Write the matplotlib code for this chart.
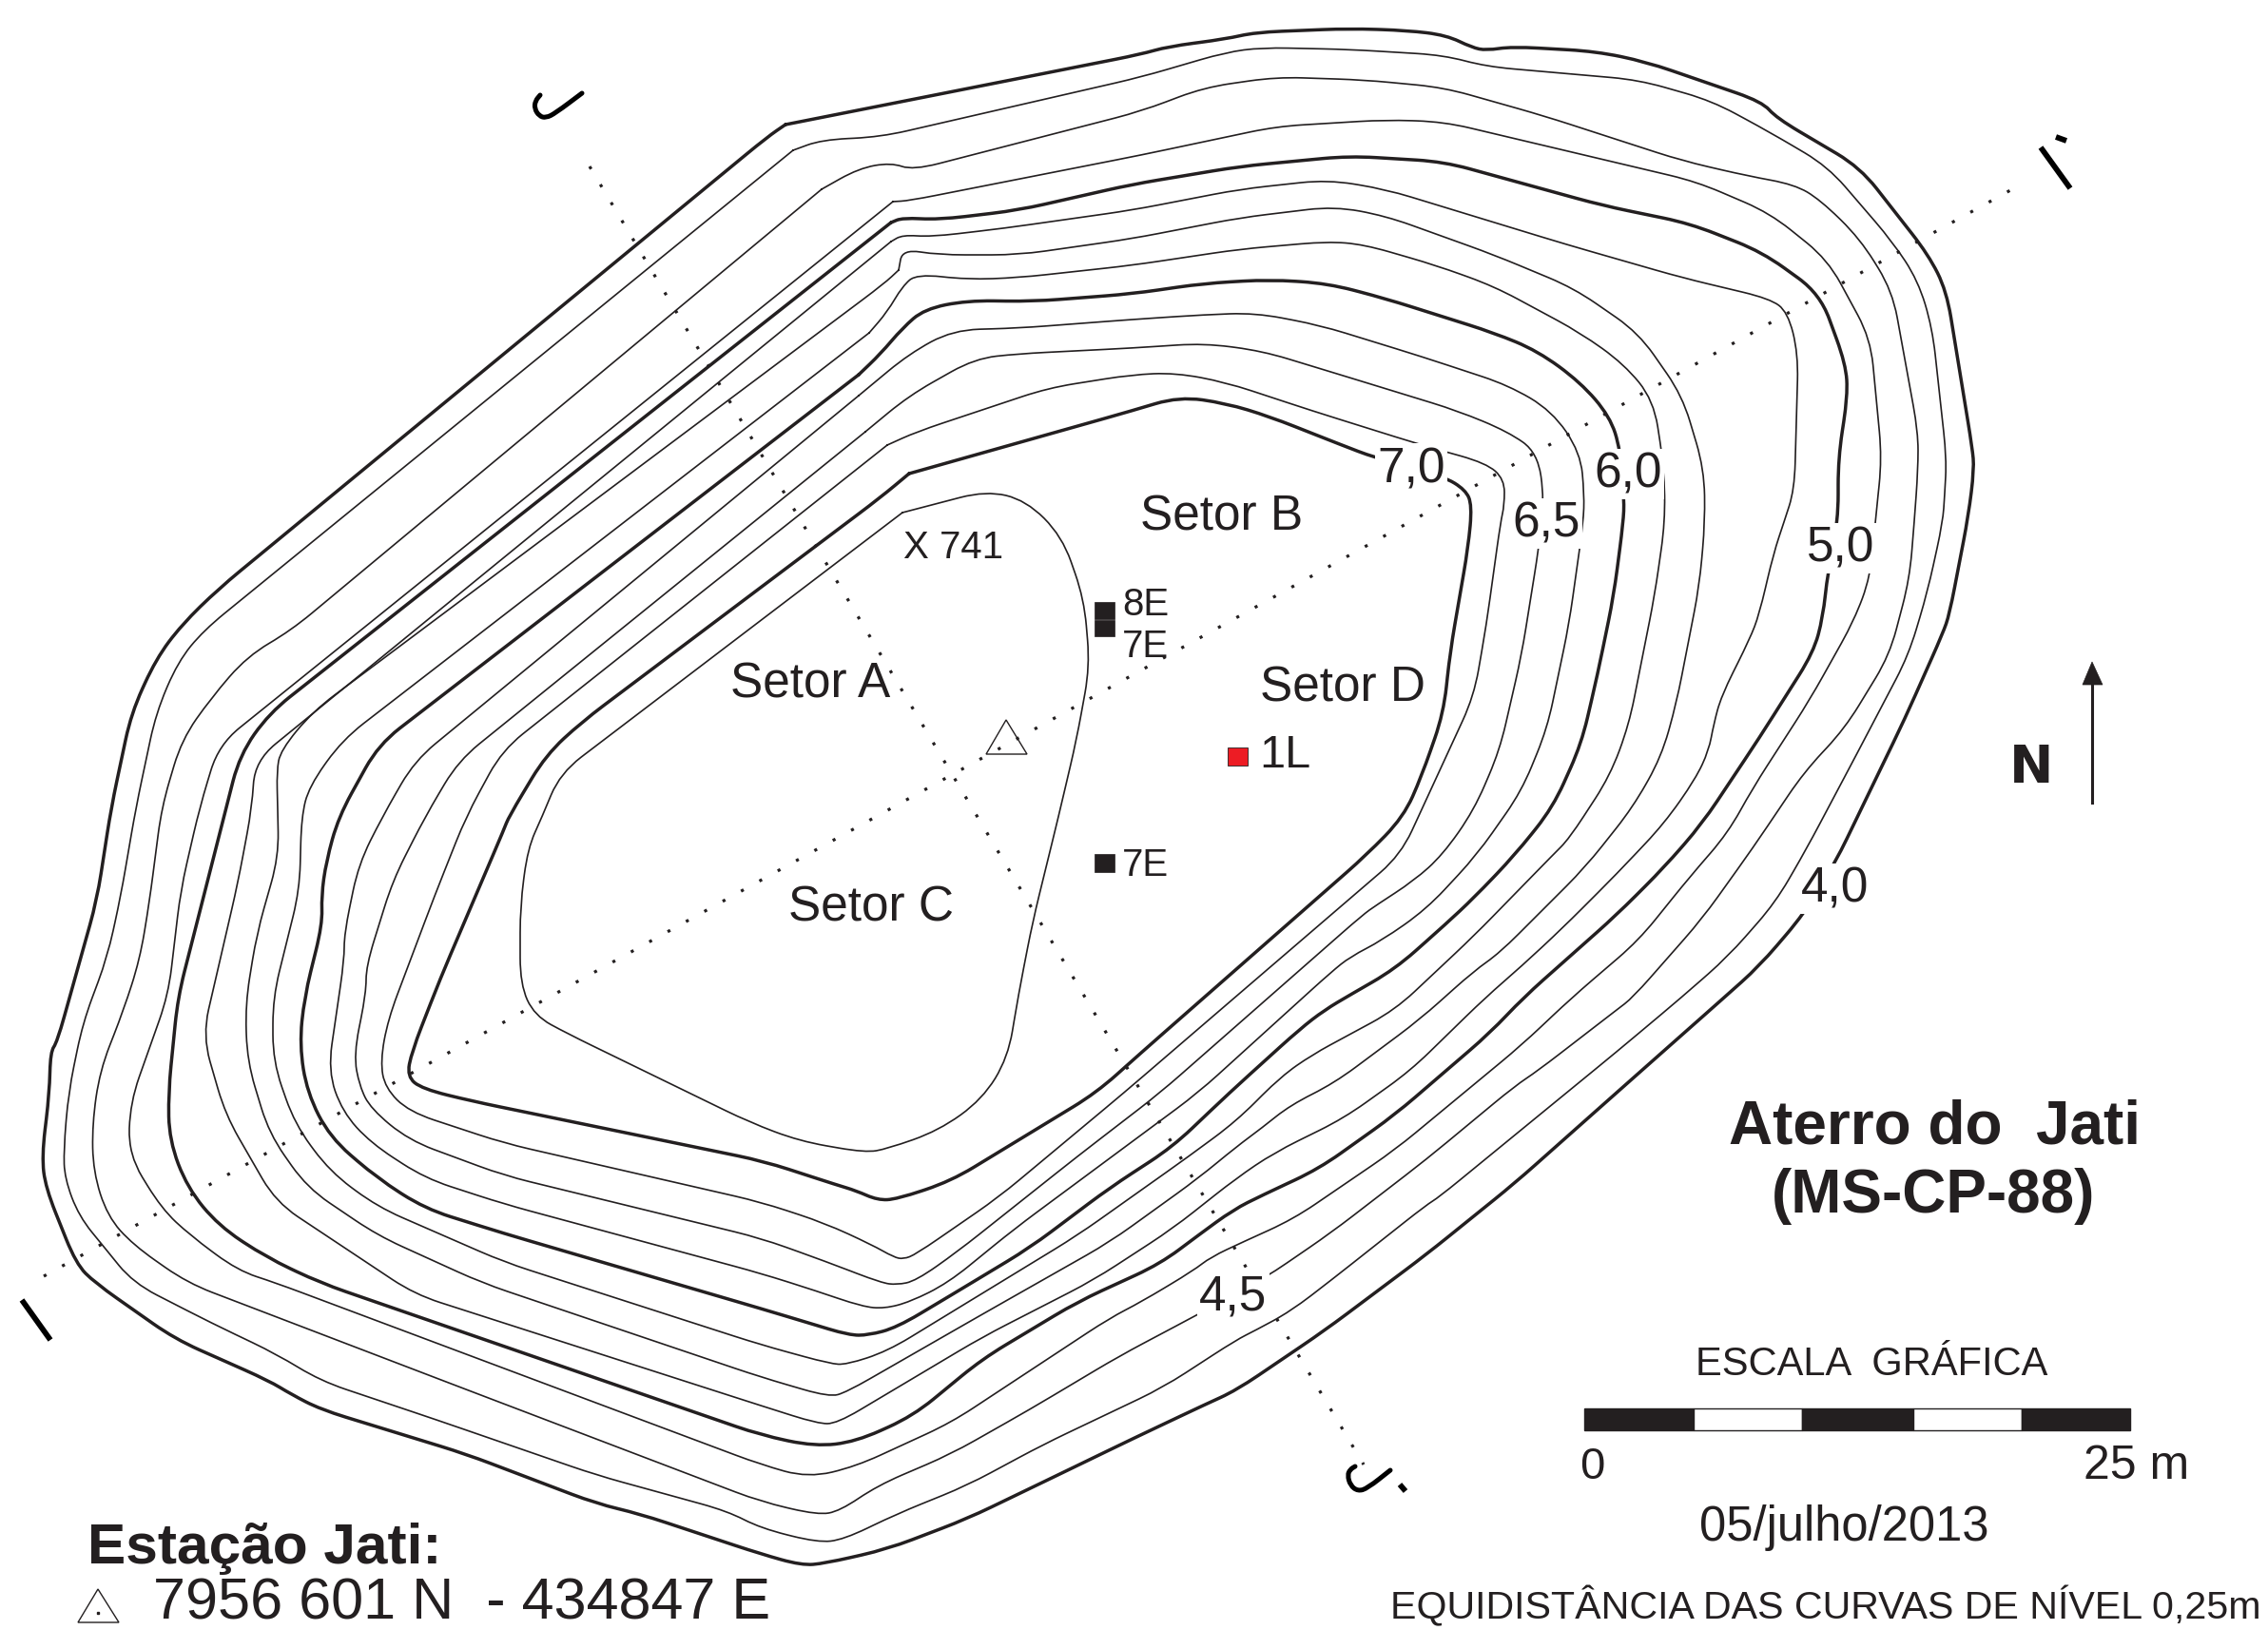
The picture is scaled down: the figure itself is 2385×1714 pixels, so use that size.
import matplotlib
matplotlib.use("Agg")
import matplotlib.pyplot as plt
from matplotlib.patches import Rectangle, Polygon, PathPatch
from matplotlib.path import Path

plt.rcParams["font.family"] = ["Liberation Sans", "DejaVu Sans"]

INK = "#231f20"

# Contour lines in image pixels
c_400 = [(826,132),(1200,58),(1228,50),(1289,42),(1320,35),(1419,31),(1480,33),(1521,38),(1548,51),(1563,54),(1590,50),(1678,55),(1731,66),(1853,108),(1868,125),(1956,177),(2028,269),(2047,307),(2074,472),(2076,494),(2070,543),(2050,647),(2043,667),(2003,757),(1930,908),(1897,962),(1850,1017),(1813,1050),(1700,1150),(1593,1245),(1500,1320),(1393,1400),(1300,1463),(1267,1478),(1193,1513),(1100,1558),(1017,1598),(933,1630),(867,1645),(843,1647),(800,1635),(673,1593),(627,1582),(490,1530),(337,1483),(306,1467),(283,1453),(184,1409),(100,1350),(80,1330),(48,1250),(44,1217),(52,1150),(53,1107),(60,1097),(102,947),(117,850),(138,751),(164,694),(191,658),(230,620),(807,145),(826,132)]
c_425 = [(834,159),(864,148),(926,145),(1200,82),(1289,56),(1327,51),(1419,53),(1518,59),(1563,71),(1723,85),(1800,107),(1861,140),(1922,176),(1990,255),(2017,296),(2032,346),(2047,483),(2045,521),(2043,550),(2027,623),(2007,690),(1953,793),(1900,893),(1867,950),(1817,1007),(1768,1050),(1700,1107),(1513,1260),(1500,1268),(1400,1347),(1357,1380),(1320,1400),(1300,1410),(1223,1460),(1097,1520),(1017,1563),(943,1593),(887,1620),(860,1623),(800,1608),(765,1590),(627,1552),(459,1494),(337,1453),(291,1425),(222,1392),(140,1350),(110,1313),(83,1280),(68,1240),(67,1210),(72,1150),(87,1077),(113,1007),(127,943),(143,850),(164,751),(187,697),(214,664),(834,159)]
c_450 = [(864,200),(903,178),(937,172),(960,180),(1200,118),(1266,93),(1342,82),(1434,85),(1518,93),(1624,123),(1769,170),(1838,186),(1887,195),(1914,211),(1956,252),(1990,307),(2017,455),(2017,494),(2013,550),(2008,610),(1987,690),(1940,767),(1897,813),(1843,893),(1790,967),(1717,1050),(1700,1063),(1617,1127),(1593,1143),(1500,1220),(1400,1297),(1330,1345),(1260,1383),(1177,1427),(1083,1483),(1000,1530),(923,1563),(883,1590),(860,1594),(800,1580),(490,1462),(197,1350),(140,1310),(113,1280),(98,1233),(97,1183),(105,1127),(130,1063),(147,1010),(157,950),(170,850),(191,779),(222,735),(260,691),(306,664),(864,200)]
c_475 = [(939,213),(956,212),(1200,164),(1342,134),(1457,127),(1518,129),(1784,192),(1861,225),(1922,274),(1967,357),(1979,483),(1972,550),(1967,607),(1950,653),(1903,737),(1843,830),(1817,877),(1777,923),(1723,990),(1653,1050),(1600,1100),(1467,1210),(1360,1283),(1307,1307),(1273,1323),(1255,1337),(1200,1370),(1167,1387),(1000,1497),(900,1543),(850,1555),(800,1541),(290,1350),(250,1337),(200,1300),(170,1272),(135,1215),(137,1160),(177,1047),(190,937),(210,850),(230,784),(939,213)]
c_500 = [(937,235),(949,230),(987,232),(1071,222),(1190,195),(1304,176),(1419,165),(1518,171),(1685,217),(1777,236),(1853,266),(1914,310),(1941,384),(1943,417),(1933,483),(1933,549),(1922,603),(1917,650),(1907,687),(1850,777),(1790,867),(1750,913),(1700,963),(1602,1050),(1567,1087),(1467,1173),(1387,1230),(1327,1258),(1297,1273),(1260,1300),(1220,1330),(1133,1370),(1033,1430),(960,1490),(900,1517),(857,1522),(800,1510),(337,1350),(280,1323),(230,1290),(197,1250),(178,1200),(177,1150),(187,1050),(238,850),(252,795),(283,751),(937,235)]
c_525 = [(937,255),(949,248),(979,250),(1056,241),(1190,222),(1304,200),(1396,190),(1457,200),(1647,258),(1769,293),(1861,315),(1880,329),(1891,373),(1887,516),(1876,550),(1865,583),(1850,647),(1840,673),(1810,733),(1802,763),(1797,790),(1783,820),(1750,867),(1700,920),(1643,977),(1600,1017),(1562,1050),(1483,1127),(1413,1177),(1340,1213),(1300,1240),(1233,1293),(1150,1347),(1033,1407),(880,1498),(860,1498),(800,1479),(436,1362),(290,1265),(237,1173),(213,1090),(250,930),(265,850),(268,801),(937,255)]
c_550 = [(945,285),(949,263),(987,269),(1071,269),(1190,252),(1304,230),(1403,218),(1457,228),(1571,269),(1655,304),(1723,351),(1769,417),(1792,494),(1793,550),(1787,617),(1763,740),(1747,797),(1717,850),(1667,913),(1577,1003),(1550,1022),(1493,1073),(1403,1140),(1357,1163),(1327,1187),(1300,1207),(1260,1240),(1167,1307),(1033,1383),(890,1465),(872,1470),(800,1449),(507,1350),(397,1300),(323,1250),(283,1193),(260,1117),(258,1057),(270,983),(293,902),(292,850),(291,812),(295,790),(329,749),(930,299),(945,285)]
c_575 = [(914,351),(933,329),(949,302),(964,289),(1017,295),(1071,293),(1190,280),(1304,263),(1396,255),(1434,258),(1510,280),(1571,302),(1662,351),(1708,384),(1739,422),(1750,494),(1751,550),(1740,627),(1713,763),(1693,817),(1650,883),(1633,900),(1550,985),(1467,1063),(1417,1090),(1380,1110),(1347,1133),(1300,1180),(1250,1217),(1133,1300),(933,1422),(890,1436),(873,1435),(800,1415),(530,1328),(397,1270),(347,1233),(310,1183),(287,1117),(287,1050),(315,937),(317,860),(325,828),(360,779),(914,351)]
c_600 = [(903,395),(926,373),(949,346),(972,326),(1017,317),(1086,318),(1190,310),(1266,299),(1335,295),(1396,299),(1457,315),(1571,351),(1617,370),(1662,403),(1693,439),(1704,474),(1708,527),(1707,550),(1697,627),(1680,710),(1663,783),(1633,850),(1593,900),(1550,945),(1520,973),(1467,1020),(1420,1047),(1393,1063),(1367,1083),(1293,1150),(1233,1207),(1167,1250),(1083,1313),(1000,1363),(943,1397),(913,1405),(893,1405),(850,1392),(800,1377),(530,1298),(447,1272),(397,1240),(347,1197),(323,1150),(315,1100),(320,1050),(339,973),(338,943),(343,907),(356,860),(398,784),(903,395)]
c_625 = [(903,417),(956,373),(1002,348),(1071,346),(1190,337),(1266,332),(1320,330),(1388,343),(1495,376),(1586,406),(1632,433),(1662,477),(1666,521),(1665,550),(1650,657),(1627,767),(1600,833),(1553,900),(1500,957),(1453,990),(1420,1007),(1400,1023),(1260,1150),(1067,1293),(997,1350),(957,1370),(930,1377),(907,1375),(857,1358),(800,1340),(530,1267),(447,1240),(390,1203),(360,1170),(345,1127),(362,1010),(362,983),(377,910),(402,860),(436,801),(903,417)]
c_650 = [(910,455),(956,417),(1025,378),(1071,373),(1190,367),(1266,362),(1327,370),(1419,398),(1533,433),(1586,455),(1617,477),(1624,527),(1618,578),(1600,690),(1577,790),(1550,853),(1517,900),(1487,927),(1447,953),(1433,963),(1220,1150),(1133,1217),(1007,1317),(963,1348),(943,1352),(927,1350),(867,1327),(800,1303),(530,1237),(430,1200),(390,1167),(378,1143),(372,1110),(385,1045),(385,1017),(413,927),(447,860),(482,801),(910,455)]
c_675 = [(933,469),(964,455),(1102,409),(1190,395),(1236,393),(1289,403),(1380,433),(1495,469),(1563,488),(1582,505),(1582,532),(1578,550),(1563,658),(1550,733),(1473,900),(1182,1150),(1050,1260),(963,1320),(950,1325),(940,1323),(917,1310),(867,1287),(800,1265),(530,1203),(430,1170),(405,1145),(400,1117),(408,1073),(457,943),(490,860),(528,790),(933,469)]
c_700 = [(956,499),(1190,433),(1240,418),(1289,425),(1335,439),(1411,469),(1445,482),(1518,502),(1541,516),(1548,532),(1544,576),(1525,686),(1518,751),(1495,817),(1476,860),(1437,900),(1200,1108),(1153,1150),(1000,1243),(943,1262),(923,1263),(900,1253),(880,1247),(803,1222),(497,1159),(444,1146),(428,1133),(433,1107),(463,1030),(530,873),(535,860),(574,795),(612,760),(926,524),(956,499)]
c_725 = [(949,540),(1037,517),(1079,527),(1117,565),(1140,631),(1146,702),(1132,779),(1113,860),(1086,970),(1071,1047),(1060,1113),(1033,1157),(987,1190),(933,1209),(910,1213),(841,1201),(788,1181),(597,1088),(562,1069),(547,1036),(547,954),(555,893),(570,860),(589,814),(949,540)]

thin_lines = [c_425, c_450, c_475, c_525, c_550, c_575, c_625, c_650, c_675, c_725]
thick_lines = [c_400, c_500, c_600, c_700]

# Section lines
section_ii = [(46,1343),(2116,200)]
section_jj = [(620,176),(1434,1541)]

# Section end marks
mark_i = [(23,1368),(53,1410)]
mark_i2 = [(2146,156),(2177,199)]
mark_i2_tick = [(2162,145),(2173,149)]
mark_j = [(612,99),(584,120),(574,125),(567,123),(562,115),(563,107),(568,101)]
mark_j2 = [(1462,1547),(1438,1566),(1428,1569),(1420,1563),(1417,1552),(1420,1546),(1425,1543)]
mark_j2_tick = [(1472,1562),(1478,1569)]

# Text: string, x, baseline y, size
contour_labels = [("7,0",1484,507),("6,5",1626,565),("6,0",1712,513),("5,0",1936,591),("4,0",1930,949),("4,5",1297,1378)]
sector_labels = [("Setor A",852,734),("Setor B",1285,558),("Setor C",916,969),("Setor D",1412,738)]
small_labels = [("X 741",1003,587,29),("8E",1204,647,29),("7E",1204,691,29),("7E",1204,921,29),("1L",1351,807,35)]

scale_edges = [1666,1781,1895,2012,2126,2240]
scale_colors = [INK,"white",INK,"white",INK]

fig = plt.figure(figsize=(23.85,17.15), dpi=100)
ax = fig.add_axes([0,0,1,1])
ax.set_xlim(0,2385)
ax.set_ylim(1715,0)
ax.axis("off")


def draw(points, lw, color=INK):
    # corners eased a little, the originals are drawn freehand
    verts = [points[0]]
    codes = [Path.MOVETO]
    for i in range(1, len(points) - 1):
        x0, y0 = points[i - 1]
        x1, y1 = points[i]
        x2, y2 = points[i + 1]
        d1 = ((x1 - x0) ** 2 + (y1 - y0) ** 2) ** 0.5
        d2 = ((x2 - x1) ** 2 + (y2 - y1) ** 2) ** 0.5
        a = min(28, d1 * 0.5) / d1
        b = min(28, d2 * 0.5) / d2
        verts += [(x1 - (x1 - x0) * a, y1 - (y1 - y0) * a), (x1, y1), (x1 + (x2 - x1) * b, y1 + (y2 - y1) * b)]
        codes += [Path.LINETO, Path.CURVE3, Path.CURVE3]
    verts.append(points[-1])
    codes.append(Path.LINETO)
    ax.add_patch(PathPatch(Path(verts, codes), fill=False, ec=color, lw=lw, joinstyle="round", capstyle="round"))


for line in thin_lines:
    draw(line, 1.2)
for line in thick_lines:
    draw(line, 2.5)

# dotted sections
for line in (section_ii, section_jj):
    xs = [p[0] for p in line]
    ys = [p[1] for p in line]
    ax.plot(xs, ys, color=INK, lw=2.3, linestyle=(0,(1,5.9)), dash_capstyle="butt", zorder=1)

for m in (mark_i, mark_i2, mark_i2_tick, mark_j2_tick):
    ax.plot([p[0] for p in m], [p[1] for p in m], color="black", lw=4.2, solid_capstyle="butt")
for m in (mark_j, mark_j2):
    draw(m, 3.6, color="black")

# triangles
ax.add_patch(Polygon([(1058,758),(1037,794),(1080,794)], closed=True, fill=False, ec=INK, lw=1.0))
ax.add_patch(Polygon([(103,1672),(82,1707),(125,1707)], closed=True, fill=False, ec=INK, lw=1.0))
ax.plot([103],[1697], marker="s", ms=1.8, color=INK)

# squares
ax.add_patch(Rectangle((1151,634),21,18, fc=INK, ec=INK, lw=0.5))
ax.add_patch(Rectangle((1151,653),21,17, fc=INK, ec=INK, lw=0.5))
ax.add_patch(Rectangle((1151,899),21,19, fc=INK, ec=INK, lw=0.5))
ax.add_patch(Rectangle((1291,787),21,19, fc="#ed1c24", ec=INK, lw=0.6))

for s,x,y in contour_labels:
    ax.text(x,y,s,ha="center",va="baseline",fontsize=37,color=INK,zorder=5,
            bbox=dict(fc="white",ec="none",pad=1.5))
for s,x,y in sector_labels:
    ax.text(x,y,s,ha="center",va="baseline",fontsize=37,color=INK,zorder=5)
for s,x,y,fs in small_labels:
    ha = "left" if s in ("8E","7E") else "center"
    ax.text(x-24 if ha=="left" else x,y,s,ha=ha,va="baseline",fontsize=fs,color=INK,zorder=5)

# north arrow
ax.plot([2200,2200],[845,715],color=INK,lw=2.2)
ax.add_patch(Polygon([(2200,697),(2190,721),(2211,721)],closed=True,fc=INK,ec=INK,lw=0.5))
ax.text(2136,823,"N",ha="center",va="baseline",fontsize=40,fontweight="bold",family="DejaVu Sans",color=INK)

# titles
ax.text(2034,1203,"Aterro do  Jati",ha="center",va="baseline",fontsize=46,fontweight="bold",color=INK)
ax.text(2033,1275,"(MS-CP-88)",ha="center",va="baseline",fontsize=46,fontweight="bold",color=INK)

# scale bar
ax.text(1968,1446,"ESCALA  GRÁFICA",ha="center",va="baseline",fontsize=30,color=INK)
for i,c in enumerate(scale_colors):
    ax.add_patch(Rectangle((scale_edges[i],1482),scale_edges[i+1]-scale_edges[i],23,fc=c,ec=INK,lw=1.0))
ax.text(1674,1555,"0",ha="center",va="baseline",fontsize=34,color=INK)
ax.text(2247,1555,"25 m",ha="center",va="baseline",fontsize=36,color=INK)
ax.text(1939,1620,"05/julho/2013",ha="center",va="baseline",fontsize=36.5,color=INK)
ax.text(2378,1702,"EQUIDISTÂNCIA DAS CURVAS DE NÍVEL 0,25m",ha="right",va="baseline",fontsize=29.6,color=INK)

# station
ax.text(92,1644,"Estação Jati:",ha="left",va="baseline",fontsize=43.5,fontweight="bold",color=INK)
ax.text(161,1703,"7956 601 N  - 434847 E",ha="left",va="baseline",fontsize=44,color=INK)

fig.savefig("out.png", dpi=100, facecolor="white")
